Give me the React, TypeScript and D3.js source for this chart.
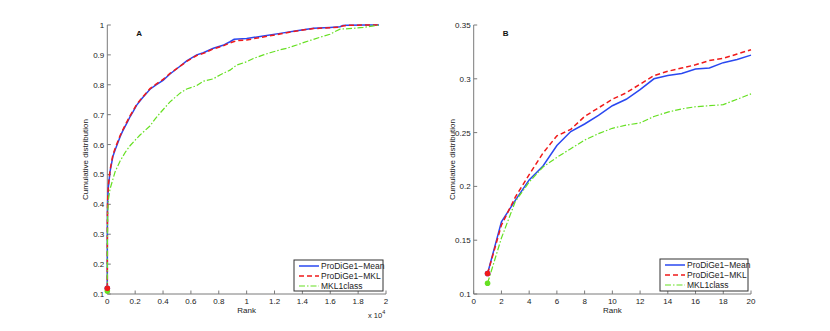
import React from "react";
import * as d3 from "d3";

// ---------- Data ----------
const seriesNames = ["ProDiGe1\u2212Mean", "ProDiGe1\u2212MKL", "MKL1class"];

// Panel A: rank vs cumulative distribution
const aMeanRank = [1, 5, 15, 30, 80, 200, 400, 560, 750, 920, 1100, 1270, 1450, 1630, 1850, 2110, 2500, 3064, 3500, 4000, 4500, 5220, 5698, 6415, 6890, 7610, 8300, 8806, 9100, 9404, 10000, 11200, 12400, 13590, 14800, 15980, 16700, 16900, 17180, 18500, 19500];
const aMeanVal = [0.119, 0.3, 0.38, 0.415, 0.46, 0.51, 0.56, 0.582, 0.605, 0.626, 0.645, 0.66, 0.676, 0.693, 0.71, 0.732, 0.755, 0.785, 0.8, 0.815, 0.836, 0.862, 0.88, 0.9, 0.907, 0.922, 0.932, 0.944, 0.952, 0.953, 0.955, 0.963, 0.972, 0.981, 0.989, 0.992, 0.994, 0.998, 0.999, 1.0, 1.0];
const aMklRank = [1, 5, 15, 30, 80, 200, 400, 560, 750, 920, 1100, 1270, 1450, 1630, 1850, 2110, 2500, 3064, 3500, 4000, 4500, 5220, 5698, 6415, 6890, 7610, 8300, 8806, 9100, 9404, 10000, 11200, 12400, 13590, 14800, 15980, 16700, 16900, 17180, 18500, 19500];
const aMklVal = [0.119, 0.31, 0.39, 0.42, 0.465, 0.515, 0.565, 0.587, 0.61, 0.63, 0.648, 0.664, 0.68, 0.696, 0.713, 0.735, 0.757, 0.787, 0.802, 0.818, 0.838, 0.862, 0.878, 0.898, 0.905, 0.92, 0.93, 0.94, 0.945, 0.948, 0.95, 0.96, 0.97, 0.98, 0.988, 0.991, 0.993, 0.997, 0.999, 1.0, 1.0];
const aClassRank = [1, 10, 30, 70, 200, 560, 920, 1300, 1630, 2000, 2350, 3060, 3423, 3780, 4500, 5220, 5698, 6415, 6890, 7610, 8087, 8806, 9283, 10000, 10480, 11200, 11675, 12400, 12872, 13590, 14068, 14800, 15265, 15980, 16461, 16700, 17657, 18370, 19000, 19570];
const aClassVal = [0.110, 0.3, 0.36, 0.414, 0.452, 0.509, 0.545, 0.575, 0.596, 0.615, 0.632, 0.662, 0.685, 0.705, 0.743, 0.772, 0.786, 0.797, 0.812, 0.82, 0.833, 0.849, 0.866, 0.877, 0.888, 0.9, 0.907, 0.917, 0.922, 0.933, 0.941, 0.952, 0.959, 0.969, 0.981, 0.986, 0.989, 0.992, 0.996, 1.0];

// Panel B: ranks 1..20
const bRank = [1, 2, 3, 4, 5, 6, 7, 8, 9, 10, 11, 12, 13, 14, 15, 16, 17, 18, 19, 20];
const bMean = [0.119, 0.167, 0.187, 0.206, 0.219, 0.238, 0.251, 0.258, 0.266, 0.275, 0.281, 0.29, 0.3, 0.303, 0.305, 0.309, 0.31, 0.315, 0.318, 0.322];
const bMkl = [0.119, 0.164, 0.19, 0.211, 0.231, 0.247, 0.253, 0.265, 0.273, 0.281, 0.287, 0.295, 0.303, 0.307, 0.31, 0.313, 0.317, 0.319, 0.323, 0.327];
const bClass = [0.11, 0.152, 0.186, 0.204, 0.218, 0.227, 0.235, 0.243, 0.249, 0.254, 0.257, 0.259, 0.265, 0.269, 0.272, 0.274, 0.275, 0.276, 0.281, 0.286];

const aXTicks = [0, 2000, 4000, 6000, 8000, 10000, 12000, 14000, 16000, 18000, 20000];
const aYTicks = [0.1, 0.2, 0.3, 0.4, 0.5, 0.6, 0.7, 0.8, 0.9, 1];
const bXTicks = [0, 2, 4, 6, 8, 10, 12, 14, 16, 18, 20];
const bYTicks = [0.1, 0.15, 0.2, 0.25, 0.3, 0.35];

// ---------- Styles ----------
const COLORS = ["#2a48f0", "#f01a1a", "#66e022"];
const DASH = ["", "5,3", "6,2,1.5,2"];
const FONT = "'Liberation Sans', Arial, Helvetica, sans-serif";
const AXIS = "#7a7a7a";
const TEXT = "#222";

type Series = { x: number[]; y: number[] };

function Panel(props: {
  left: number; right: number; top: number; bottom: number;
  xDomain: [number, number]; yDomain: [number, number];
  xTicks: number[]; yTicks: number[];
  xFmt: (v: number) => string; yFmt: (v: number) => string;
  series: Series[]; letter: string; exponent?: boolean;
  legend: { x: number; y: number; w: number; h: number };
}) {
  const { left, right, top, bottom, series, legend } = props;
  const xs = d3.scaleLinear().domain(props.xDomain).range([left, right]);
  const ys = d3.scaleLinear().domain(props.yDomain).range([bottom, top]);
  const line = d3.line<[number, number]>().x(d => xs(d[0])).y(d => ys(d[1]));
  const tl = 3.5;
  return (
    <g>
      {/* axes */}
      <line x1={left} x2={left} y1={top} y2={bottom} stroke={AXIS} strokeWidth={1} />
      <line x1={left} x2={right} y1={bottom} y2={bottom} stroke={AXIS} strokeWidth={1} />
      {props.yTicks.map(t => (
        <g key={"y" + t}>
          <line x1={left} x2={left + tl} y1={ys(t)} y2={ys(t)} stroke={AXIS} />
          <text x={left - 3} y={ys(t) + 3} textAnchor="end" fontSize={8} fill={TEXT} fontFamily={FONT}>{props.yFmt(t)}</text>
        </g>
      ))}
      {props.xTicks.map(t => (
        <g key={"x" + t}>
          <line x1={xs(t)} x2={xs(t)} y1={bottom} y2={bottom - tl} stroke={AXIS} />
          <text x={xs(t)} y={bottom + 10} textAnchor="middle" fontSize={8} fill={TEXT} fontFamily={FONT}>{props.xFmt(t)}</text>
        </g>
      ))}
      <text x={(left + right) / 2} y={bottom + 19} textAnchor="middle" fontSize={8} fill={TEXT} fontFamily={FONT}>Rank</text>
      <text transform={`translate(${left - 19},${(top + bottom) / 2}) rotate(-90)`} textAnchor="middle" fontSize={8} fill={TEXT} fontFamily={FONT}>Cumulative distribution</text>
      {props.exponent && (
        <text x={right - 18} y={bottom + 24} fontSize={7.5} fill={TEXT} fontFamily={FONT}>x 10<tspan dy={-4} fontSize={5.5}>4</tspan></text>
      )}
      <text x={left + 29} y={top + 11} fontSize={8} fontWeight="bold" fill="#111" fontFamily={FONT}>{props.letter}</text>
      {/* series */}
      {series.map((s, i) => (
        <path key={"s" + i} d={line(s.x.map((x, j) => [x, s.y[j]] as [number, number])) || ""}
          fill="none" stroke={COLORS[i]} strokeWidth={i === 2 ? 1.2 : 1.5} strokeDasharray={DASH[i]} />
      ))}
      {[0, 2, 1].map(i => (
        <circle key={"m" + i} cx={xs(series[i].x[0])} cy={ys(series[i].y[0])} r={2.8} fill={COLORS[i]} />
      ))}
      {/* legend */}
      <rect x={legend.x} y={legend.y} width={legend.w} height={legend.h} fill="#fff" stroke="#333" strokeWidth={1} />
      {seriesNames.map((n, i) => {
        const ry = legend.y + 6 + i * 10;
        return (
          <g key={"l" + i}>
            <line x1={legend.x + 5} x2={legend.x + 25} y1={ry} y2={ry} stroke={COLORS[i]} strokeWidth={i === 2 ? 1.2 : 1.5} strokeDasharray={DASH[i]} />
            <text x={legend.x + 27} y={ry + 3} fontSize={8.5} fill={TEXT} fontFamily={FONT}>{n}</text>
          </g>
        );
      })}
    </g>
  );
}

export default function App() {
  return (
    <svg width={830} height={331} style={{ position: "absolute", left: 0, top: 0, background: "#fff" }}>
      <rect width={830} height={331} fill="#fff" />
      <Panel left={107.3} right={386} top={25} bottom={294}
        xDomain={[0, 20000]} yDomain={[0.1, 1]} xTicks={aXTicks} yTicks={aYTicks}
        xFmt={v => String(+(v / 10000).toFixed(1))} yFmt={v => String(+v.toFixed(1))}
        series={[{ x: aMeanRank, y: aMeanVal }, { x: aMklRank, y: aMklVal }, { x: aClassRank, y: aClassVal }]}
        letter="A" exponent legend={{ x: 294, y: 260, w: 89, h: 31 }} />
      <Panel left={473.7} right={751} top={25} bottom={294}
        xDomain={[0, 20]} yDomain={[0.1, 0.35]} xTicks={bXTicks} yTicks={bYTicks}
        xFmt={v => String(v)} yFmt={v => String(+v.toFixed(2))}
        series={[{ x: bRank, y: bMean }, { x: bRank, y: bMkl }, { x: bRank, y: bClass }]}
        letter="B" legend={{ x: 660, y: 259, w: 88, h: 32 }} />
    </svg>
  );
}
